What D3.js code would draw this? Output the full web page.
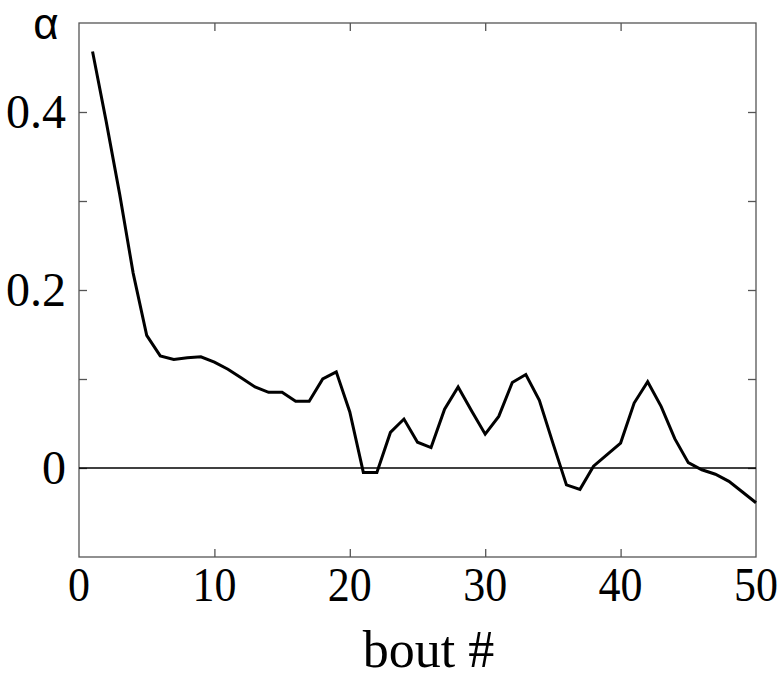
<!DOCTYPE html>
<html>
<head>
<meta charset="utf-8">
<script src="https://cdn.jsdelivr.net/npm/d3@7"></script>
<style>
  body { margin: 0; background: #fff; }
  svg { display: block; }
</style>
</head>
<body>
<svg width="778" height="680"></svg>
<script>
// donnees (bout 1..50)
const bouts = d3.range(1, 51);
const alphaValues = [
  0.468, 0.390, 0.308, 0.219, 0.149, 0.126, 0.122, 0.124, 0.125, 0.119,
  0.111, 0.101, 0.091, 0.085, 0.085, 0.075, 0.075, 0.100, 0.108, 0.063,
  -0.005, -0.005, 0.040, 0.055, 0.029, 0.023, 0.066, 0.091, 0.064, 0.038,
  0.058, 0.096, 0.105, 0.076, 0.028, -0.019, -0.024, 0.002, 0.015, 0.028,
  0.073, 0.097, 0.069, 0.033, 0.006, -0.002, -0.007, -0.015, -0.027, -0.039
];
const xTicks = [0, 10, 20, 30, 40, 50];
const yTicks = [0, 0.1, 0.2, 0.3, 0.4];
const yLabels = [0, 0.2, 0.4];

let svg = d3.select("svg");

const mLeft = 79, mRight = 756, mTop = 23, mBottom = 557;

let x = d3.scaleLinear().domain([0, 50]).range([mLeft, mRight]);
let y = d3.scaleLinear().domain([-0.1, 0.5]).range([mBottom, mTop]);

// cadre
svg.append("rect")
  .attr("x", mLeft)
  .attr("y", mTop)
  .attr("width", mRight - mLeft)
  .attr("height", mBottom - mTop)
  .attr("fill", "none")
  .attr("stroke", "#555")
  .attr("stroke-width", 1.3);

// graduations (vers l'interieur, sur les 4 cotes)
const tickLen = 8;
svg.append("g")
  .attr("transform", `translate(0,${mBottom})`)
  .call(d3.axisBottom(x).tickValues(xTicks.slice(1, -1)).tickSize(-tickLen).tickFormat(""))
  .call(g => g.select(".domain").remove())
  .selectAll("line").attr("stroke", "#555").attr("stroke-width", 1.3);
svg.append("g")
  .attr("transform", `translate(0,${mTop})`)
  .call(d3.axisTop(x).tickValues(xTicks.slice(1, -1)).tickSize(-tickLen).tickFormat(""))
  .call(g => g.select(".domain").remove())
  .selectAll("line").attr("stroke", "#555").attr("stroke-width", 1.3);
svg.append("g")
  .attr("transform", `translate(${mLeft},0)`)
  .call(d3.axisLeft(y).tickValues(yTicks).tickSize(-tickLen).tickFormat(""))
  .call(g => g.select(".domain").remove())
  .selectAll("line").attr("stroke", "#555").attr("stroke-width", 1.3);
svg.append("g")
  .attr("transform", `translate(${mRight},0)`)
  .call(d3.axisRight(y).tickValues(yTicks).tickSize(-tickLen).tickFormat(""))
  .call(g => g.select(".domain").remove())
  .selectAll("line").attr("stroke", "#555").attr("stroke-width", 1.3);

// etiquettes
svg.append("g")
  .selectAll("text")
  .data(xTicks)
  .join("text")
  .attr("x", d => x(d))
  .attr("text-anchor", "middle")
  .attr("font-family", "Liberation Serif, Times New Roman, serif")
  .attr("font-size", 44)
  .attr("transform", d => `translate(${x(d)},0) scale(1,1.12) translate(${-x(d)},0)`)
  .attr("y", 601 / 1.12)
  .text(d => d);

svg.append("g")
  .selectAll("text")
  .data(yLabels)
  .join("text")
  .attr("x", 66)
  .attr("y", d => y(d) + 16)
  .attr("text-anchor", "end")
  .attr("font-family", "Liberation Serif, Times New Roman, serif")
  .attr("font-size", 48)
  .text(d => d);

svg.append("text")
  .attr("x", (mLeft + mRight) / 2 + 11)
  .attr("y", 667)
  .attr("text-anchor", "middle")
  .attr("font-family", "Liberation Serif, Times New Roman, serif")
  .attr("font-size", 52)
  .text("bout #");

svg.append("text")
  .attr("x", 46)
  .attr("y", 39)
  .attr("text-anchor", "middle")
  .attr("font-family", "Liberation Sans, Arial, sans-serif")
  .attr("font-size", 44)
  .text("α");

// ligne zero
svg.append("line")
  .attr("x1", mLeft)
  .attr("x2", mRight)
  .attr("y1", y(0))
  .attr("y2", y(0))
  .attr("stroke", "black")
  .attr("stroke-width", 1.5);

// courbe
let line = d3.line()
  .x((d, i) => x(bouts[i]))
  .y(d => y(d));

svg.append("path")
  .datum(alphaValues)
  .attr("d", line)
  .attr("fill", "none")
  .attr("stroke", "black")
  .attr("stroke-width", 3)
  .attr("stroke-linejoin", "miter");
</script>
</body>
</html>
